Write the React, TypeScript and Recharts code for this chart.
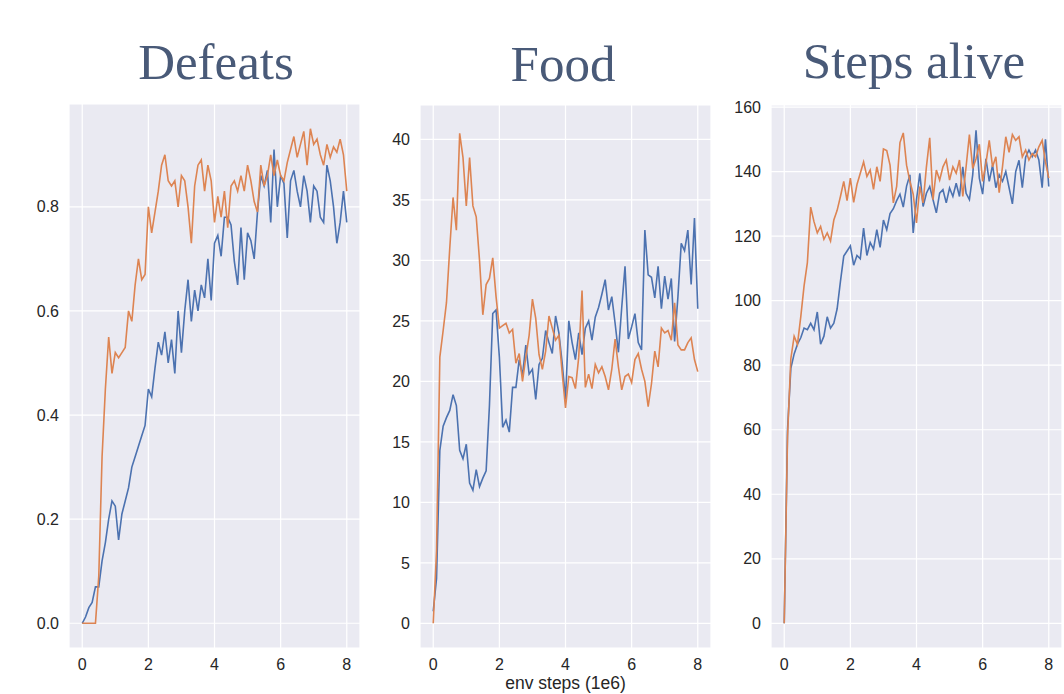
import React from "react";
import { LineChart, Line, XAxis, YAxis, CartesianGrid } from "recharts";

// x positions (env steps, 1e6)
const steps = [
  0, 0.1, 0.2, 0.3, 0.4, 0.5, 0.6, 0.7, 0.8, 0.9, 1, 1.1, 1.2, 1.3, 1.4, 1.5, 1.6, 1.7, 1.8, 1.9,
  2, 2.1, 2.2, 2.3, 2.4, 2.5, 2.6, 2.7, 2.8, 2.9, 3, 3.1, 3.2, 3.3, 3.4, 3.5, 3.6, 3.7, 3.8, 3.9,
  4, 4.1, 4.2, 4.3, 4.4, 4.5, 4.6, 4.7, 4.8, 4.9, 5, 5.1, 5.2, 5.3, 5.4, 5.5, 5.6, 5.7, 5.8, 5.9,
  6, 6.1, 6.2, 6.3, 6.4, 6.5, 6.6, 6.7, 6.8, 6.9, 7, 7.1, 7.2, 7.3, 7.4, 7.5, 7.6, 7.7, 7.8, 7.9, 8,
];

const defeatsBlue = [
  0, 0.012, 0.03, 0.04, 0.07, 0.07, 0.12, 0.155, 0.2, 0.235, 0.225, 0.16, 0.21, 0.235, 0.26, 0.3, 0.32, 0.34, 0.36, 0.38,
  0.45, 0.435, 0.49, 0.54, 0.515, 0.56, 0.5, 0.545, 0.48, 0.6, 0.52, 0.6, 0.66, 0.58, 0.64, 0.6, 0.65, 0.625, 0.7, 0.62,
  0.73, 0.745, 0.705, 0.78, 0.78, 0.765, 0.695, 0.65, 0.76, 0.66, 0.75, 0.735, 0.7, 0.79, 0.86, 0.84, 0.87, 0.77, 0.91, 0.8,
  0.86, 0.845, 0.74, 0.85, 0.87, 0.83, 0.8, 0.86, 0.83, 0.77, 0.84, 0.83, 0.78, 0.77, 0.88, 0.85, 0.8, 0.73, 0.77, 0.83, 0.77,
];
const defeatsOrange = [
  0, 0, 0, 0, 0, 0.09, 0.32, 0.45, 0.55, 0.48, 0.52, 0.51, 0.52, 0.53, 0.6, 0.58, 0.65, 0.7, 0.66, 0.67,
  0.8, 0.75, 0.79, 0.83, 0.88, 0.9, 0.85, 0.84, 0.85, 0.8, 0.86, 0.85, 0.8, 0.73, 0.84, 0.88, 0.89, 0.83, 0.88, 0.85,
  0.77, 0.82, 0.78, 0.83, 0.76, 0.84, 0.85, 0.83, 0.86, 0.83, 0.88, 0.85, 0.81, 0.79, 0.88, 0.84, 0.86, 0.9, 0.86, 0.89,
  0.86, 0.85, 0.885, 0.91, 0.935, 0.895, 0.92, 0.945, 0.88, 0.95, 0.92, 0.93, 0.9, 0.88, 0.92, 0.895, 0.915, 0.905, 0.93, 0.9, 0.83,
];

const foodBlue = [
  1, 3.7, 14.3, 16.3, 17, 17.6, 18.9, 18, 14.3, 13.6, 14.8, 11.6, 11, 12.7, 11.3, 12, 12.6, 18, 25.6, 25.9,
  22, 16.2, 16.8, 15.8, 19.5, 19.5, 21.8, 20.5, 23, 20.6, 21, 18.5, 21.4, 21.9, 24.2, 23.2, 22.3, 25.4, 24, 21.5,
  18.5, 25, 23.2, 21.8, 24, 22.2, 24.4, 25, 23.4, 25.3, 26.1, 27.2, 28.4, 25.9, 27, 24.8, 22.4, 26.1, 29.5, 23.5,
  24.5, 25.6, 23.2, 22.6, 32.5, 28.8, 28.6, 26.9, 29.5, 26, 28.7, 26.8, 28.5, 23.3, 27, 31.4, 30.8, 32.5, 28, 33.5, 26,
];
const foodOrange = [
  0, 6, 22, 24.2, 26.5, 31, 35.2, 32.5, 40.5, 38.5, 34.5, 38.5, 34.5, 33.6, 30, 25.5, 28, 28.5, 30.2, 27,
  24.4, 24.6, 24.8, 24, 24.3, 21.5, 22.3, 20, 22, 23.8, 26.8, 25.2, 22.2, 21, 22.5, 25.4, 24.4, 23.4, 23.8, 20.7,
  17.8, 20.4, 20.3, 19.4, 22, 27.5, 19.5, 20.6, 19.4, 21.4, 20.7, 21.2, 20.4, 19.3, 21, 23.5, 21.2, 19.3, 20.4, 20.6,
  19.9, 21.8, 22.3, 21, 20, 17.9, 19.8, 22.5, 21.2, 24.4, 24, 24.2, 23.4, 26.5, 23, 22.6, 22.6, 23.2, 23.6, 21.8, 20.8,
];

const aliveBlue = [
  0, 60, 79, 83.5, 86.5, 88.5, 91.5, 91, 93, 91, 96.5, 86.5, 89, 95, 91.5, 93, 97.5, 106, 113.8, 115.4,
  117, 111, 114, 113, 122.5, 114, 118, 116, 122, 116.5, 125, 122, 127, 128.5, 131, 133, 129, 135.5, 139, 121,
  131.3, 139.5, 129.2, 133.3, 135.4, 131.3, 127.2, 133.3, 134.4, 130.3, 134.9, 132.3, 136.4, 132.3, 141.5, 133.3, 131.3, 139, 152.8, 138,
  133, 144, 137, 142, 135, 139, 137, 140, 135, 130, 140, 143.5, 135, 144.5, 146.7, 144.6, 146.7, 143.6, 135, 150, 135.4,
];
const aliveOrange = [
  0, 58, 82, 89, 86.5, 95, 104.6, 111.8, 129, 124.5, 121, 123, 119, 121, 118.5, 125, 128, 132.3, 137, 131,
  138, 130.5, 136, 139.5, 143, 138.5, 140.5, 134.5, 141.5, 137, 147, 146.5, 142, 130.3, 135.4, 149, 152, 142, 137, 133,
  124.1, 135.4, 130.3, 141.5, 150.5, 131.3, 140.5, 137.4, 141.5, 143.6, 137.4, 141.5, 139.5, 143.6, 132.3, 141.5, 151.5, 141, 144, 148.5,
  137, 142.6, 149.7, 141.5, 144.6, 133.5, 141.5, 150.8, 146, 151.5, 149.7, 150.8, 144.6, 146.7, 143.6, 145.6, 144.6, 147.7, 149.7, 143, 138,
];

const xTicks = [0, 2, 4, 6, 8];
const defeatsTicks = [0, 0.2, 0.4, 0.6, 0.8];
const foodTicks = [0, 5, 10, 15, 20, 25, 30, 35, 40];
const aliveTicks = [0, 20, 40, 60, 80, 100, 120, 140, 160];

const BLUE = "#4c72b0";
const ORANGE = "#dd8452";
const tickStyle = { fontFamily: "'Liberation Sans', Arial, sans-serif", fontSize: 16, fill: "#262626" };

const makeRows = (blue: number[], orange: number[]) =>
  steps.map((s, i) => ({ s, blue: blue[i], orange: orange[i] }));

type PanelProps = {
  left: number;
  width: number;
  top: number;
  yWidth: number;
  right: number;
  blue: number[];
  orange: number[];
  domain: [number, number];
  ticks: number[];
  fmt?: (v: number) => string;
  xLabel?: string;
};

const Panel = ({ left, width, top, yWidth, right, blue, orange, domain, ticks, fmt, xLabel }: PanelProps) => (
  <div style={{ position: "absolute", left, top: 94 }}>
    <LineChart
      width={width}
      height={600}
      data={makeRows(blue, orange)}
      margin={{ top, right, bottom: 0, left: 0 }}
    >
      <CartesianGrid fill="#eaeaf2" stroke="#ffffff" strokeWidth={1.2} />
      <XAxis
        dataKey="s"
        type="number"
        domain={[-0.4, 8.4]}
        ticks={xTicks}
        allowDataOverflow
        axisLine={false}
        tickLine={false}
        tickMargin={5}
        height={46}
        tick={tickStyle}
        label={
          xLabel
            ? {
                value: xLabel,
                position: "insideBottom",
                offset: 5,
                style: { ...tickStyle, fontSize: 17.5 },
              }
            : undefined
        }
      />
      <YAxis
        type="number"
        domain={domain}
        ticks={ticks}
        allowDataOverflow
        axisLine={false}
        tickLine={false}
        tickMargin={4}
        width={yWidth}
        tick={tickStyle}
        tickFormatter={fmt}
      />
      <Line dataKey="blue" stroke={BLUE} strokeWidth={1.6} dot={false} isAnimationActive={false} />
      <Line dataKey="orange" stroke={ORANGE} strokeWidth={1.6} dot={false} isAnimationActive={false} />
    </LineChart>
  </div>
);

const titleStyle: React.CSSProperties = {
  position: "absolute",
  top: 37,
  width: 300,
  textAlign: "center",
  fontFamily: "'Liberation Serif', 'DejaVu Serif', serif",
  fontSize: 51,
  lineHeight: "51px",
  color: "#495a78",
};

export default function App() {
  return (
    <div style={{ position: "absolute", left: 0, top: 0, width: 1064, height: 694, background: "#fff", overflow: "hidden" }}>
      <div style={{ ...titleStyle, left: 216 - 150 }}>Defeats</div>
      <div style={{ ...titleStyle, left: 563 - 150, top: 39 }}>Food</div>
      <div style={{ ...titleStyle, left: 914 - 150, top: 36 }}>Steps alive</div>
      <Panel
        left={0}
        width={370}
        top={10}
        yWidth={69}
        right={10}
        blue={defeatsBlue}
        orange={defeatsOrange}
        domain={[-0.0475, 0.9975]}
        ticks={defeatsTicks}
        fmt={(v) => v.toFixed(1)}
      />
      <Panel
        left={370}
        width={350}
        top={11}
        yWidth={50}
        right={9}
        blue={foodBlue}
        orange={foodOrange}
        domain={[-2.04, 42.84]}
        ticks={foodTicks}
        xLabel="env steps (1e6)"
      />
      <Panel
        left={720}
        width={344}
        top={11}
        yWidth={51}
        right={2}
        blue={aliveBlue}
        orange={aliveOrange}
        domain={[-7.65, 160.65]}
        ticks={aliveTicks}
      />
    </div>
  );
}
